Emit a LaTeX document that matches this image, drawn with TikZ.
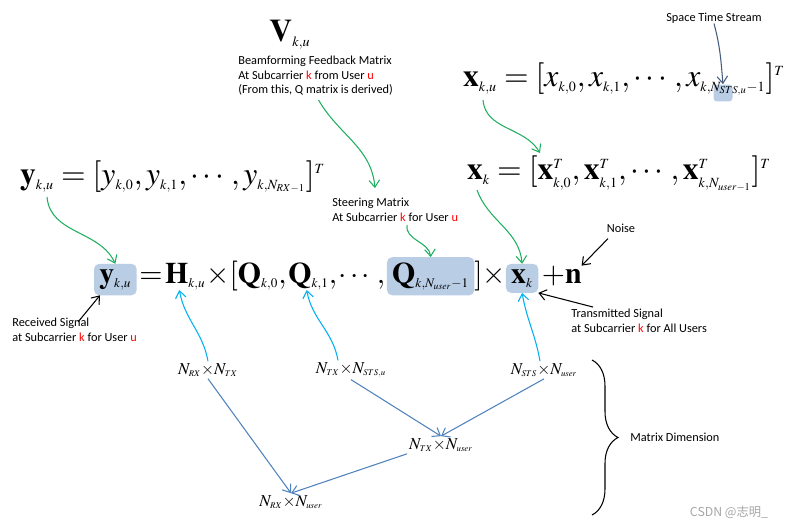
\documentclass[tikz,border=0pt]{standalone}
\usepackage{amsmath}
\usepackage{mathptmx}
\usepackage[no-math]{fontspec}
\usepackage{xcolor}
\newfontfamily\lblfont{Carlito}
\newfontfamily\cjkfont{Noto Sans CJK SC}
\usetikzlibrary{positioning, arrows.meta, calc, decorations.pathreplacing}

\DeclareMathSizes{18}{18}{8}{6}
\DeclareMathSizes{17}{17}{7.5}{5.5}
\DeclareMathSizes{9.5}{9.5}{5}{4}

\definecolor{hlblue}{RGB}{185,205,229}
\definecolor{arrgreen}{RGB}{30,175,95}
\definecolor{arrcyan}{RGB}{0,176,240}
\definecolor{arrsteel}{RGB}{79,129,189}
\definecolor{arrslate}{RGB}{70,90,125}

\newcommand{\rk}{\textcolor{red}{k}}
\newcommand{\ru}{\textcolor{red}{u}}

\tikzset{
  eqbig/.style={font=\fontsize{18}{22}\selectfont, inner sep=0pt, outer sep=0pt},
  eqmain/.style={font=\fontsize{17}{21}\selectfont, inner sep=0pt, outer sep=0pt},
  hl/.style={fill=hlblue, rounded corners=3pt, inner sep=3pt},
  lbl/.style={font=\lblfont\fontsize{7}{8.3}\selectfont, align=left, inner sep=0pt},
  dimlbl/.style={font=\fontsize{9.5}{11}\selectfont, inner sep=1pt},
  tip/.style={-{Straight Barb[length=4pt, width=6pt]}, semithick},
  greenarr/.style={tip, draw=arrgreen},
  cyanarr/.style={tip, draw=arrcyan},
  steelarr/.style={tip, draw=arrsteel},
  slatearr/.style={tip, draw=arrslate},
  blackarr/.style={tip, draw=black}
}

\begin{document}
\begin{tikzpicture}[x=0.02cm, y=-0.02cm]
    \useasboundingbox (0,0) rectangle (785,527);

    % feedback matrix and its note
    \node[eqbig] (vmat) at (290,35) {$\mathbf{V}_{k,u}$};
    \node[lbl, anchor=west] (bffm) at (238,76) {Beamforming Feedback Matrix\\At Subcarrier \rk{} from User \ru\\(From this, Q matrix is derived)};
    \node[lbl, anchor=west] (steer) at (332,210) {Steering Matrix\\At Subcarrier \rk{} for User \ru};

    % vectors on top
    \node[lbl] (stslbl) at (714,18) {Space Time Stream};
    \node[fill=hlblue, rounded corners=2pt, minimum width=0.38cm, minimum height=0.34cm] (stsbox) at (723,93) {};
    \node[eqbig, anchor=base west] (xtop) at (463,87) {$\mathbf{x}_{k,u}=[x_{k,0},x_{k,1},\cdots,x_{k,N_{STS,u}-1}]^T$};
    \node[eqbig, anchor=base west] (ytop) at (20,185) {$\mathbf{y}_{k,u}=[y_{k,0},y_{k,1},\cdots,y_{k,N_{RX-1}}]^T$};
    \node[eqbig, anchor=base west] (xkeq) at (467,180) {$\mathbf{x}_k=[\mathbf{x}^T_{k,0},\mathbf{x}^T_{k,1},\cdots,\mathbf{x}^T_{k,N_{user-1}}]^T$};

    % main equation
    \node[eqmain, hl, anchor=base west] (ymain) at (94,283) {$\mathbf{y}_{k,u}$};
    \node[eqmain, base right=1.5pt of ymain] (eqsign) {$=$};
    \node[eqmain, base right=1.5pt of eqsign] (hmat) {$\mathbf{H}_{k,u}$};
    \node[eqmain, base right=0.5pt of hmat] (times1) {$\times[$};
    \node[eqmain, base right=0pt of times1] (qzero) {$\mathbf{Q}_{k,0},$};
    \node[eqmain, base right=1pt of qzero] (qone) {$\mathbf{Q}_{k,1},$};
    \node[eqmain, base right=1pt of qone] (cdots) {$\cdots,$};
    \node[eqmain, hl, base right=1pt of cdots] (qlast) {$\mathbf{Q}_{k,N_{user}-1}$};
    \node[eqmain, base right=0pt of qlast] (times2) {$]\times$};
    \node[eqmain, hl, base right=0pt of times2] (xk) {$\mathbf{x}_k$};
    \node[eqmain, base right=2pt of xk] (plusn) {$+\mathbf{n}$};

    % labels around the main equation
    \node[lbl] (noise) at (621,228) {Noise};
    \node[lbl, anchor=west] (trans) at (571,321) {Transmitted Signal\\at Subcarrier \rk{} for All Users};
    \node[lbl, anchor=west] (recv) at (12,330) {Received Signal\\at Subcarrier \rk{} for User \ru};

    % matrix dimensions
    \node[dimlbl] (dimh) at (208,370) {$N_{RX}{\times}N_{TX}$};
    \node[dimlbl] (dimq) at (351,370) {$N_{TX}{\times}N_{STS,u}$};
    \node[dimlbl] (dimx) at (544,370) {$N_{STS}{\times}N_{user}$};
    \node[dimlbl] (dimqx) at (441,445) {$N_{TX}{\times}N_{user}$};
    \node[dimlbl] (dimall) at (291,502) {$N_{RX}{\times}N_{user}$};
    \draw[decorate, decoration={brace, amplitude=0.52cm}, semithick] (592,360) -- (592,515);
    \node[lbl, anchor=west] (mdim) at (630,437) {Matrix Dimension};
    \node[font=\cjkfont\fontsize{7}{8}\selectfont, text=black!35, inner sep=0pt] (wmark) at (729,512) {CSDN @志明\_};

    % green arrows
    \draw[greenarr] ($(bffm.south)+(3,4)$) to[out=-60, in=95] ($(steer.north west)+(43,-10)$);
    \draw[greenarr] ($(steer.south)+(12,3)$) to[out=-100, in=95] (qlast.north);
    \draw[greenarr] ($(ytop.base west)+(27,12)$) to[out=-85, in=115] (ymain.north);
    \draw[greenarr] ($(xtop.base west)+(20,13)$) to[out=-85, in=120] ($(xkeq.base west)+(73,-27)$);
    \draw[greenarr] ($(xkeq.base west)+(10,10)$) to[out=-70, in=95] (xk.north);
    \draw[slatearr] (stslbl.south) to[out=-75, in=95] (stsbox.north);

    % black arrows
    \draw[blackarr] ($(noise.south)+(-13,6)$) -- (plusn.north east);
    \draw[blackarr] ($(trans.north west)+(22,-2)$) -- (xk.south east);
    \draw[blackarr] ($(recv.north west)+(66,4)$) -- ($(ymain.south west)+(6,0)$);

    % dimensions point to the factors
    \draw[cyanarr] (dimh.north) to[out=100, in=-80] ($(hmat.south)+(-6,0)$);
    \draw[cyanarr] ($(dimq.north)+(-13,0)$) to[out=100, in=-80] ($(qone.south)+(-6,0)$);
    \draw[cyanarr] ($(dimx.north)+(-4,0)$) to[out=100, in=-80] (xk.south);
    \draw[steelarr] (dimh.south) -- (dimall.north);
    \draw[steelarr] (dimq.south) -- (dimqx.north);
    \draw[steelarr] (dimx.south) -- (dimqx.north);
    \draw[steelarr] (dimqx.south west) -- (dimall.north);
\end{tikzpicture}
\end{document}
